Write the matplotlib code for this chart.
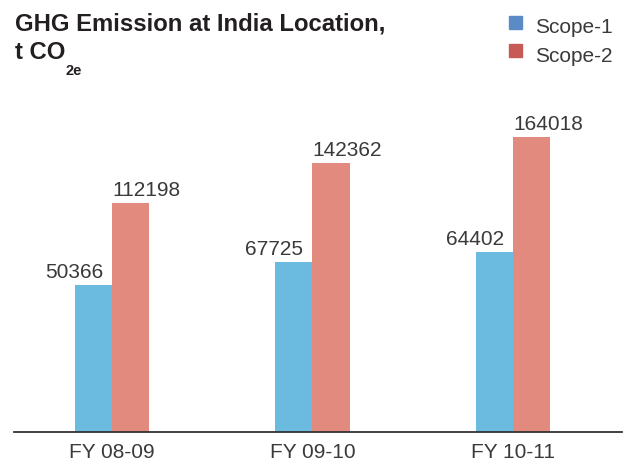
import matplotlib
matplotlib.use("Agg")
import matplotlib.pyplot as plt
from matplotlib.patches import Rectangle
import numpy as np

plt.rcParams['font.family'] = ['Liberation Sans', 'DejaVu Sans']

# data
years = ["FY 08-09", "FY 09-10", "FY 10-11"]
series = ["Scope-1", "Scope-2"]
scope1 = [50366, 67725, 64402]
scope2 = [112198, 142362, 164018]
# bar heights as drawn in the source graphic (not proportional to the labels)
scope1_drawn = [147, 170, 180]
scope2_drawn = [229, 269, 295]

bar_colors = ["#6bbbe0", "#e28a7e"]
legend_colors = ["#5b8bc6", "#c85a55"]
text_color = "#3a3a3a"

W, H = 624, 461
fig = plt.figure(figsize=(W / 100, H / 100), dpi=100)
base_px = 431.7
ax = fig.add_axes([14 / W, (H - base_px) / H, 608 / W, 330 / H])

x = np.arange(len(years))
width = 0.185
ax.bar(x - width / 2, scope1_drawn, width, color=bar_colors[0], linewidth=0)
ax.bar(x + width / 2, scope2_drawn, width, color=bar_colors[1], linewidth=0)

for i in range(len(years)):
    ax.annotate(str(scope1[i]), (x[i], scope1_drawn[i]), xytext=(-6.5, 5),
                textcoords="offset points", ha="right", va="baseline",
                fontsize=15, color=text_color)
    ax.annotate(str(scope2[i]), (x[i], scope2_drawn[i]), xytext=(0, 5),
                textcoords="offset points", ha="left", va="baseline",
                fontsize=15, color=text_color)

ax.set_xlim(-0.489, 2.544)
ax.set_ylim(0, 330)
ax.set_xticks(x)
ax.set_xticklabels(years, fontsize=15, color=text_color)
ax.tick_params(axis="x", length=0, pad=8)
ax.set_yticks([])
for s in ["left", "right", "top"]:
    ax.spines[s].set_visible(False)
ax.spines["bottom"].set_color("#333333")
ax.spines["bottom"].set_linewidth(1.3)

# title
fig.text(15 / W, 1 - 31 / H, "GHG Emission at India Location,", fontsize=17.2,
         fontweight="bold", color="#231f20", va="baseline", ha="left")
fig.text(15 / W, 1 - 59 / H, "t CO", fontsize=17.2, fontweight="bold",
         color="#231f20", va="baseline", ha="left")
fig.text(65 / W, 1 - 75 / H, "2e", fontsize=10.5, fontweight="bold",
         color="#231f20", va="baseline", ha="left")

# legend
for i, name in enumerate(series):
    top = 16 + i * 28.5
    fig.patches.append(Rectangle((509 / W, 1 - (top + 13) / H), 13 / W, 13 / H,
                                 transform=fig.transFigure, color=legend_colors[i]))
    fig.text(535 / W, 1 - (33 + i * 29) / H, name, fontsize=15, color=text_color,
             va="baseline", ha="left")

fig.savefig("out.png", dpi=100)
